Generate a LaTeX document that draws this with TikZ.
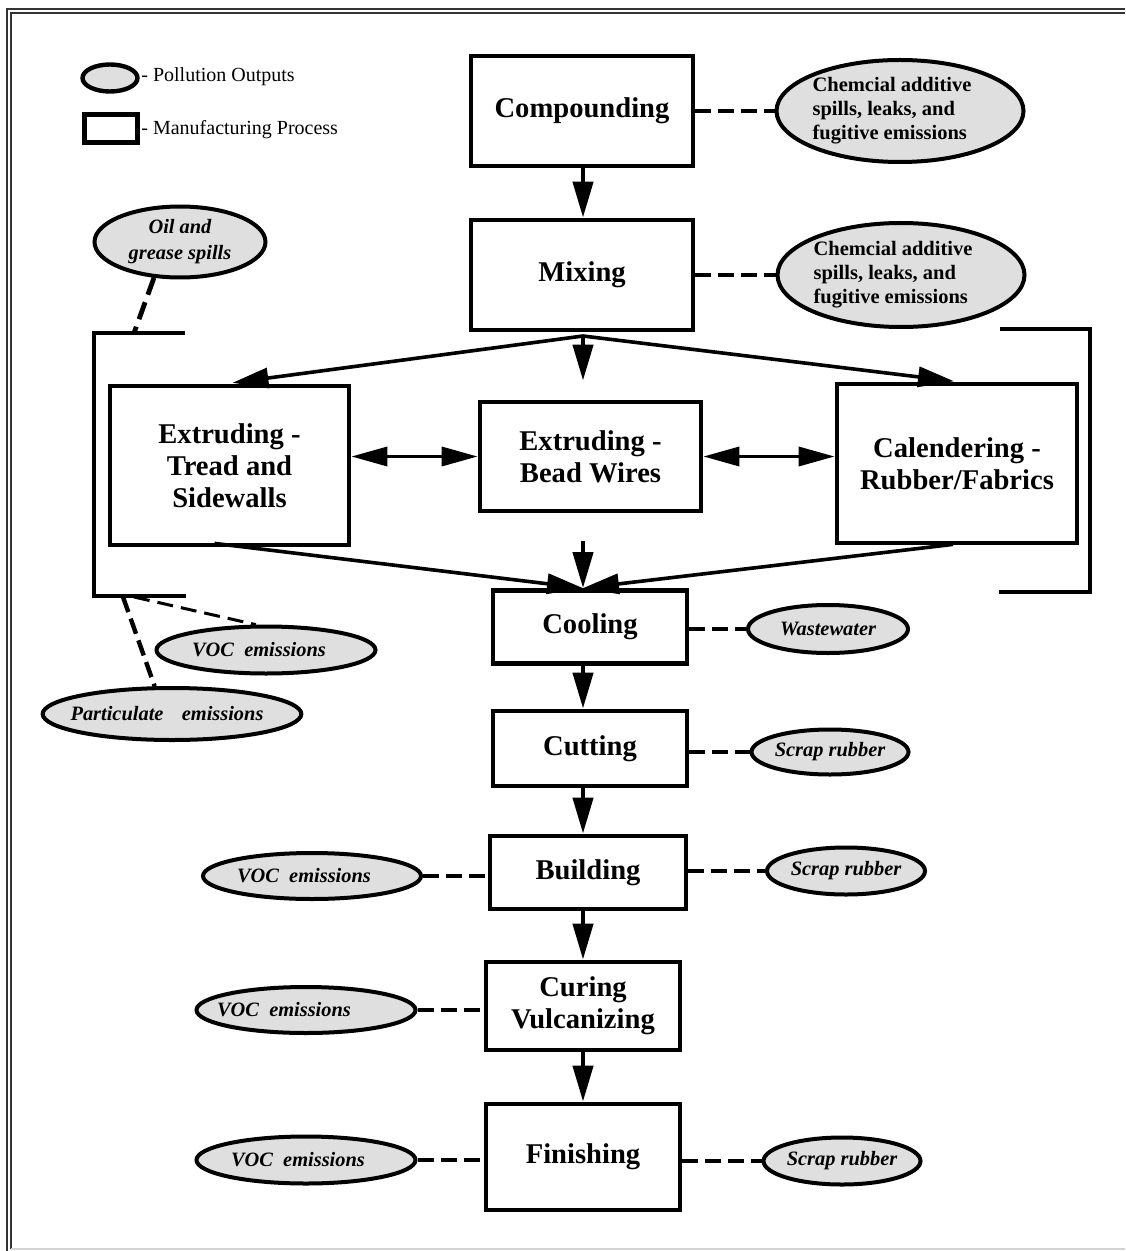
\documentclass[tikz,border=0pt]{standalone}
\usepackage{fontspec}
\setmainfont{Liberation Serif}
\usetikzlibrary{arrows.meta,calc,shapes.geometric}
\newcommand{\padl}[1]{\hspace*{-#1}}
\begin{document}
\begin{tikzpicture}[x=0.5pt,y=-0.5pt,
  procbox/.style={draw, rectangle, line width=2.4pt, align=center, inner sep=0pt, font=\bfseries\fontsize{14.3}{16}\selectfont},
  pollell/.style={draw, ellipse, line width=2pt, fill=gray!25, inner sep=0pt, align=center, font=\bfseries\itshape\fontsize{10.2}{13}\selectfont},
  chemell/.style={pollell, font=\bfseries\fontsize{10.25}{12}\selectfont, align=left},
  flowarr/.style={line width=2.2pt, -{Triangle[length=18pt,width=10pt]}},
  diagarr/.style={line width=1.8pt, -{Triangle[length=18pt,width=10pt]}},
  biarr/.style={line width=1.8pt, {Triangle[length=18pt,width=9.5pt]}-{Triangle[length=18pt,width=9.5pt]}},
  dashln/.style={line width=2.4pt, dash pattern=on 8pt off 3.5pt},
  thindash/.style={line width=1.5pt, dash pattern=on 8pt off 4pt},
  brk/.style={line width=2pt},
  legtext/.style={anchor=west, inner sep=0pt, font=\fontsize{10}{12}\selectfont}
]
\useasboundingbox (0,0) rectangle (1125,1251);
% page frame
\draw[line width=0.8pt, black!80] (7,1251) -- (7,9) -- (1125,9);
\draw[line width=0.8pt, black!80] (11,1249) -- (11,13) -- (1125,13);
\draw[line width=0.8pt, gray!35] (11,1249) -- (1125,1249);

% legend
\node[pollell, line width=2.2pt, minimum width=27.5pt, minimum height=13.5pt] (legell) at (110,78) {};
\node[legtext] (legelltxt) at (141,77) {- Pollution Outputs};
\node[draw, rectangle, line width=2.5pt, minimum width=26.5pt, minimum height=14pt] (legrect) at (110.5,129) {};
\node[legtext] (legrecttxt) at (141,130) {- Manufacturing Process};

% process boxes
\node[procbox, minimum width=111pt, minimum height=55pt] (comp) at (582,111) {Compounding};
\node[procbox, minimum width=111pt, minimum height=55pt] (mix) at (582,275) {Mixing};
\node[procbox, minimum width=119.5pt, minimum height=79.5pt] (tread) at (229.5,465.5) {Extruding -\\Tread and\\Sidewalls};
\node[procbox, minimum width=110.5pt, minimum height=54.5pt] (bead) at (590.5,456.5) {Extruding -\\Bead Wires};
\node[procbox, minimum width=120pt, minimum height=79.5pt] (cal) at (957,463.5) {Calendering -\\Rubber/Fabrics};
\node[procbox, minimum width=97pt, minimum height=36.5pt] (cool) at (590,627) {Cooling};
\node[procbox, minimum width=97pt, minimum height=37.5pt] (cut) at (590,748.5) {Cutting};
\node[procbox, minimum width=98pt, minimum height=36.5pt] (build) at (588,872.5) {Building};
\node[procbox, minimum width=97pt, minimum height=44pt] (cure) at (583,1006) {Curing\\Vulcanizing};
\node[procbox, minimum width=97pt, minimum height=53pt] (fin) at (583,1157) {Finishing};

% pollution ellipses
\node[chemell, minimum width=123.5pt, minimum height=51pt] (chem1) at (900,111) {\padl{8pt}Chemcial additive\\\padl{8pt}spills, leaks, and\\\padl{8pt}fugitive emissions};
\node[chemell, minimum width=123.5pt, minimum height=52pt] (chem2) at (901,275) {\padl{8pt}Chemcial additive\\\padl{8pt}spills, leaks, and\\\padl{8pt}fugitive emissions};
\node[pollell, minimum width=85.5pt, minimum height=35.5pt] (oil) at (180,242) {Oil and\\grease spills};
\node[pollell, minimum width=109.5pt, minimum height=23.5pt] (voc0) at (266,650) {\padl{7pt}VOC\hspace{0.5em}emissions};
\node[pollell, minimum width=122.5pt, minimum height=26pt] (part) at (172,714) {\padl{5pt}Particulate\hspace{0.9em}emissions};
\node[pollell, minimum width=80pt, minimum height=24pt] (waste) at (828,629) {Wastewater};
\node[pollell, minimum width=78.5pt, minimum height=22.5pt] (scrap1) at (830,752) {Scrap rubber};
\node[pollell, minimum width=109pt, minimum height=23pt] (voc1) at (312,876) {\padl{8pt}VOC\hspace{0.5em}emissions};
\node[pollell, minimum width=79pt, minimum height=23.5pt] (scrap2) at (846,871) {Scrap rubber};
\node[pollell, minimum width=109.5pt, minimum height=23pt] (voc2) at (306,1010) {\padl{22pt}VOC\hspace{0.5em}emissions};
\node[pollell, minimum width=109.5pt, minimum height=23.5pt] (voc3) at (306,1160) {\padl{8pt}VOC\hspace{0.5em}emissions};
\node[pollell, minimum width=78.5pt, minimum height=23.5pt] (scrap3) at (842,1161) {Scrap rubber};

% helper coordinates
\coordinate (flow) at (583,0);
\coordinate (mixout) at (583,336);
\coordinate (beadout) at (583,541);
\coordinate (lbT) at (185,333);
\coordinate (lbTL) at (94,333);
\coordinate (lbBL) at (94,596);
\coordinate (lbB) at (186,596);
\coordinate (rbT) at (1000,329);
\coordinate (rbTR) at (1090,329);
\coordinate (rbBR) at (1090,592);
\coordinate (rbB) at (999,592);
\coordinate (oilpt) at (134,333);
\coordinate (vocpt) at (134,597);
\coordinate (partpt) at (123,597);

% brackets
\draw[brk] (lbT) -- (lbTL) -- (lbBL) -- (lbB);
\draw[brk] (rbT) -- (rbTR) -- (rbBR) -- (rbB);

% main flow arrows
\draw[flowarr] (comp.south -| flow) -- (mix.north -| flow);
\draw[diagarr, shorten >=3pt] (mixout) -- ($(tread.north)+(-3,0)$);
\draw[flowarr, shorten >=9.5pt] (mixout) -- (bead.north -| flow);
\draw[diagarr, shorten >=1.5pt] (mixout) -- (cal.north);
\draw[biarr] (tread.east |- bead.west) -- (bead.west);
\draw[biarr] (bead.east) -- (cal.west |- bead.east);
\draw[diagarr] ($(tread.south)+(-15,-4)$) -- (cool.north -| flow);
\draw[flowarr] (beadout) -- (cool.north -| flow);
\draw[diagarr] ($(cal.south)+(-4,-1)$) -- (cool.north -| flow);
\draw[flowarr] (cool.south -| flow) -- (cut.north -| flow);
\draw[flowarr] (cut.south -| flow) -- (build.north -| flow);
\draw[flowarr] (build.south -| flow) -- (cure.north -| flow);
\draw[flowarr] (cure.south -| flow) -- (fin.north -| flow);

% pollution links
\draw[dashln] (comp.east) -- (chem1.west);
\draw[dashln] (mix.east) -- (chem2.west);
\draw[dashln, dash pattern=on 9pt off 4pt] (oil.234) -- (oilpt);
\draw[thindash] (vocpt) -- (voc0.112);
\draw[dashln, line width=2.2pt] (partpt) -- (part.122);
\draw[dashln] (cool.east |- waste.west) -- (waste.west);
\draw[dashln] (cut.east |- scrap1.west) -- (scrap1.west);
\draw[dashln] (voc1.east) -- (build.west |- voc1.east);
\draw[dashln] (build.east |- scrap2.west) -- (scrap2.west);
\draw[dashln] (voc2.east) -- (cure.west |- voc2.east);
\draw[dashln] (voc3.east) -- (fin.west |- voc3.east);
\draw[dashln] (fin.east |- scrap3.west) -- (scrap3.west);
\end{tikzpicture}
\end{document}
